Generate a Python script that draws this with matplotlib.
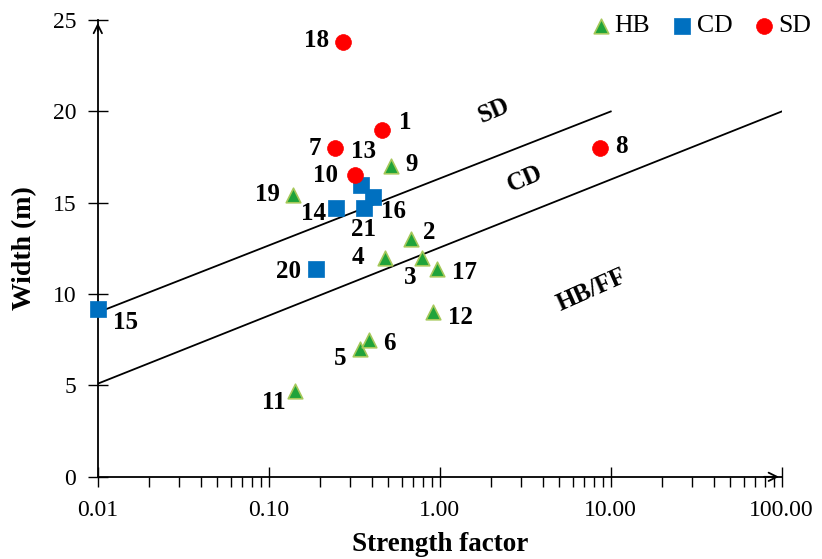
import matplotlib
matplotlib.use("Agg")
import matplotlib.pyplot as plt
import numpy as np

plt.rcParams['font.family'] = ['Liberation Serif', 'DejaVu Serif']

# Heave / block, continuous subsidence and sinkhole cases
hb_ids = ["2", "3", "4", "5", "6", "9", "11", "12", "17", "19"]
hb_strength = [0.68, 0.79, 0.48, 0.34, 0.385, 0.52, 0.142, 0.91, 0.96, 0.138]
hb_width = [13.0, 12.0, 12.0, 7.0, 7.5, 17.0, 4.7, 9.0, 11.4, 15.4]

cd_ids = ["13", "14", "15", "16", "20", "21"]
cd_strength = [0.345, 0.246, 0.01, 0.405, 0.19, 0.36]
cd_width = [16.0, 14.7, 9.2, 15.3, 11.4, 14.7]

sd_ids = ["1", "7", "8", "10", "18"]
sd_strength = [0.46, 0.243, 8.7, 0.32, 0.27]
sd_width = [19.0, 18.0, 18.0, 16.5, 23.8]

# Zone boundaries
sd_line_x = [0.01, 10.0]
sd_line_y = [9.0, 20.0]
cd_line_x = [0.01, 100.0]
cd_line_y = [5.1, 20.0]

x_ticks = [0.01, 0.1, 1, 10, 100]
x_tick_labels = ["0.01", "0.10", "1.00", "10.00", "100.00"]
y_ticks = [0, 5, 10, 15, 20, 25]

# label offsets in points (dx, dy) for each case number
offsets = {
    "18": (-19, 1), "1": (17, 5), "7": (-14, 0), "13": (2, 24), "10": (-21, 0),
    "9": (15, 1), "19": (-18, 1), "14": (-16, -4), "21": (0, -15), "16": (15, -10),
    "2": (13, 5), "4": (-20, 0), "3": (-9, -14), "17": (20, -3), "20": (-20, -2),
    "15": (20, -10), "12": (20, -4), "6": (15, -3), "5": (-14, -7), "8": (15, 1),
    "11": (-15, -8),
}

fig = plt.figure(figsize=(8.22, 5.59), dpi=100)
ax = fig.add_axes([0.119, 0.147, 0.832, 0.817])

ax.plot(sd_line_x, sd_line_y, color="black", lw=1.3, zorder=1)
ax.plot(cd_line_x, cd_line_y, color="black", lw=1.3, zorder=1)

ax.scatter(hb_strength, hb_width, marker="^", s=110, color="#1fa33a",
           edgecolor="#a6c85a", linewidth=1.2, zorder=3, label="HB", clip_on=False)
ax.scatter(cd_strength, cd_width, marker="s", s=120, color="#0070c0",
           edgecolor="#0070c0", linewidth=0.5, zorder=3, label="CD", clip_on=False)
ax.scatter(sd_strength, sd_width, marker="o", s=130, color="#ff0000",
           edgecolor="#ff0000", linewidth=0.5, zorder=3, label="SD", clip_on=False)

for ids, xs, ys in [(hb_ids, hb_strength, hb_width),
                    (cd_ids, cd_strength, cd_width),
                    (sd_ids, sd_strength, sd_width)]:
    for i, x, y in zip(ids, xs, ys):
        ax.annotate(i, (x, y), xytext=offsets[i], textcoords="offset points",
                    ha="center", va="center", fontsize=18, fontweight="bold")

# zone names along the boundaries
ax.text(2.07, 20.05, "SD", rotation=23, fontsize=18, fontweight="bold",
        ha="center", va="center")
ax.text(3.14, 16.3, "CD", rotation=23, fontsize=18, fontweight="bold",
        ha="center", va="center")
ax.text(7.7, 10.2, "HB/FF", rotation=24, fontsize=18, fontweight="bold",
        ha="center", va="center")

ax.set_xscale("log")
ax.set_xlim(0.01, 100)
ax.set_ylim(0, 25)
ax.set_xticks(x_ticks)
ax.set_xticklabels(x_tick_labels)
ax.set_yticks(y_ticks)
ax.tick_params(axis="both", which="major", direction="inout", length=15,
               width=1, labelsize=17, colors="black")
ax.tick_params(axis="x", which="minor", direction="out", length=7, width=1)
ax.tick_params(axis="x", which="major", pad=9)
ax.tick_params(axis="y", which="major", pad=8)

for side in ("top", "right"):
    ax.spines[side].set_visible(False)
for side in ("left", "bottom"):
    ax.spines[side].set_linewidth(1.3)

ax.annotate("", xy=(1.0, 0), xytext=(0.97, 0), xycoords="axes fraction",
            arrowprops=dict(arrowstyle="->", lw=1.3, color="black",
                            mutation_scale=15))
ax.annotate("", xy=(0, 1.0), xytext=(0, 0.97), xycoords="axes fraction",
            arrowprops=dict(arrowstyle="->", lw=1.3, color="black",
                            mutation_scale=15))

ax.set_xlabel("Strength factor", fontsize=19.5, fontweight="bold", labelpad=8)
ax.set_ylabel("Width (m)", fontsize=20, fontweight="bold", labelpad=11)

leg = ax.legend(loc="upper right", bbox_to_anchor=(1.077, 1.063), ncol=3,
                frameon=False, fontsize=18.5, handletextpad=0.1, handlelength=0.9,
                columnspacing=0.8, markerscale=1.0)

fig.savefig("out.png", dpi=100)
